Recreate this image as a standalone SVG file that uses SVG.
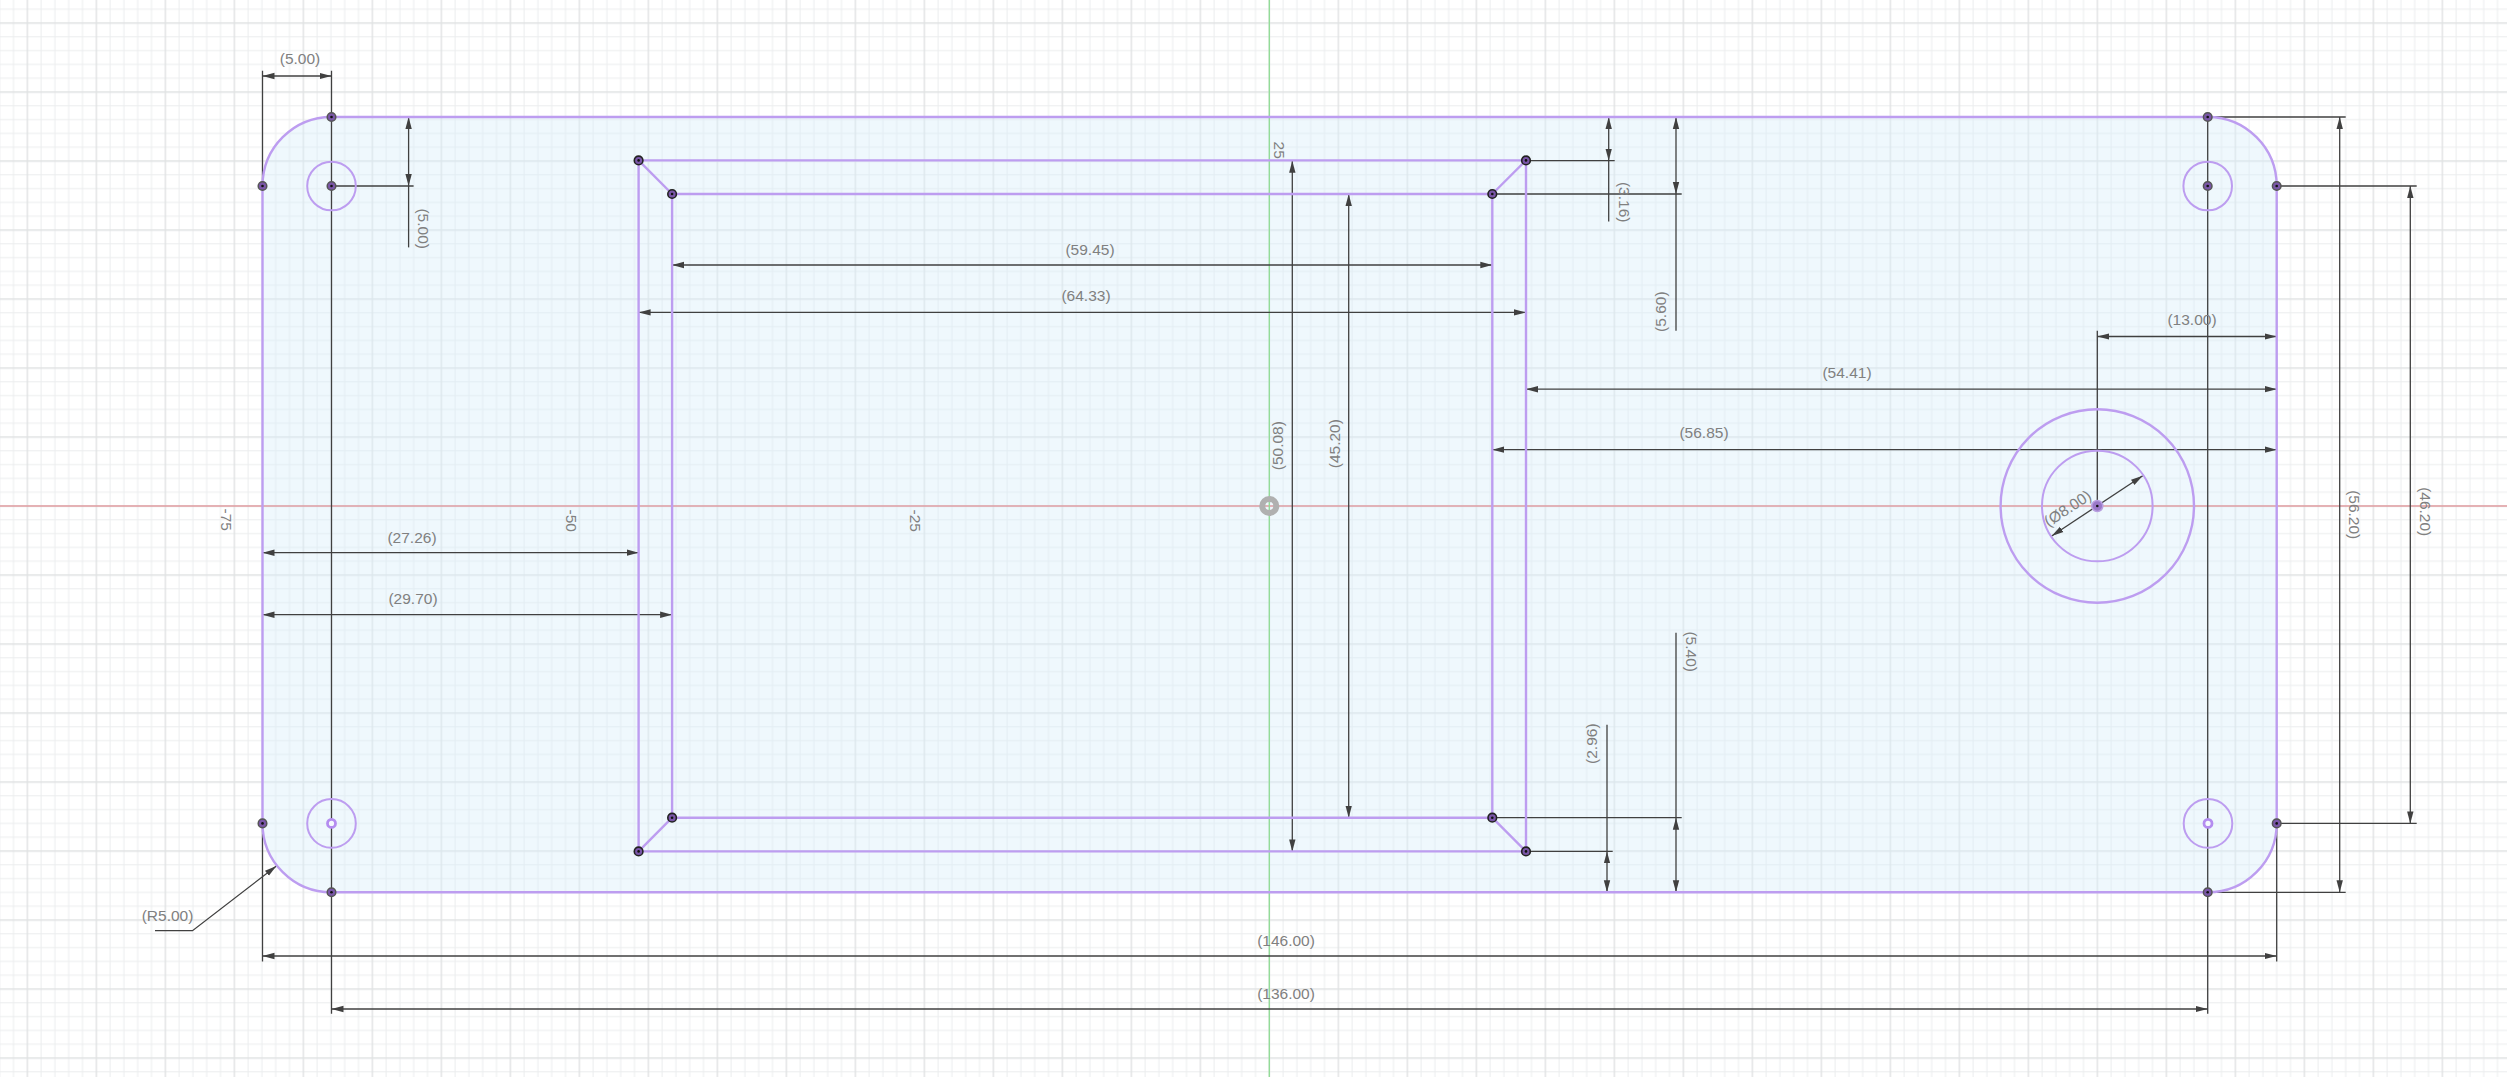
<svg xmlns="http://www.w3.org/2000/svg" width="2507" height="1077" viewBox="0 0 2507 1077">
<style>
.d{stroke:#404040;stroke-width:1.3;fill:none}
.a{marker-start:url(#ar);marker-end:url(#ar)}
.e{marker-end:url(#ar)}
.t{font-family:"Liberation Sans",Arial,sans-serif;font-size:15.5px;fill:#808080;text-anchor:middle;dominant-baseline:central}
.s{stroke:#bd9df0;stroke-width:2.4;fill:none}
.c{stroke:#bd9df0;stroke-width:2;fill:none}
.p{fill:#7a56a8;stroke:#555;stroke-width:1.5}
.q{fill:#7a56a8;stroke:#222;stroke-width:1.6}
.k{fill:#111}
</style>
<defs>
<marker id="ar" markerUnits="userSpaceOnUse" markerWidth="13" markerHeight="8" refX="12" refY="4" orient="auto-start-reverse"><path d="M0 0.8L12 4L0 7.2z" fill="#404040"/></marker>
<pattern id="grid" patternUnits="userSpaceOnUse" x="26.6" y="22.3" width="69" height="69">
<path d="M14.5 0V69M28.3 0V69M42.1 0V69M55.9 0V69M0 14.5H69M0 28.3H69M0 42.1H69M0 55.9H69" stroke="#ebedee" stroke-width="1" fill="none"/>
<path d="M0.7 0V69M0 0.7H69" stroke="#e0e2e3" stroke-width="1.4" fill="none"/>
</pattern>
</defs>
<rect width="2507" height="1077" fill="#fff"/>
<rect id="grid-area" width="2507" height="1077" fill="url(#grid)"/>
<g transform="translate(0 .7)">
<g id="plate">
<path d="M331.5 116.3H2207.7A69 69 0 0 1 2276.7 185.3V822.7A69 69 0 0 1 2207.7 891.6H331.5A69 69 0 0 1 262.5 822.7V185.3A69 69 0 0 1 331.5 116.3Z" fill="#d8eef9" fill-opacity=".4" stroke="none"/>
</g>
<g id="axes">
<line x1="0" y1="505.3" x2="2507" y2="505.3" stroke="#e0787f" stroke-width="1.2"/>
<line x1="1269.3" y1="-1" x2="1269.3" y2="1077" stroke="#8fdc94" stroke-width="1.3"/>
<circle cx="1269.3" cy="505.3" r="7" fill="none" stroke="#b0b0b0" stroke-width="6"/>
<text class="t" transform="translate(226.7 519) rotate(90)">-75</text>
<text class="t" transform="translate(571 520) rotate(90)">-50</text>
<text class="t" transform="translate(915 520) rotate(90)">-25</text>
<text class="t" transform="translate(1279 149.5) rotate(90)">25</text>
</g>
<g id="connectors">
<path class="d" d="M262.5 70V185.3M331.5 70V1013M2207.7 116.3V1013M262.5 822.7V960.7M2276.7 822.7V960.7"/>
<path class="d" d="M331.5 185.3H413.6M1526 160H1614.7M1492.3 193.3H1681.7M1492.3 817H1681.7M1526 850.7H1612.7M2207.7 116.3H2345.7M2276.7 185.3H2416.7M2276.7 822.7H2416.7M2207.7 891.6H2345.7M2097.3 330V505.3"/>
<line class="d a" x1="262.5" y1="75.3" x2="331.5" y2="75.3"/>
<text class="t" x="300" y="58.3">(5.00)</text>
<path class="d" d="M408.6 185.3V246.7"/>
<line class="d a" x1="408.6" y1="116.3" x2="408.6" y2="185.3"/>
<text class="t" transform="translate(423.5 228) rotate(90)">(5.00)</text>
<path class="d" d="M1608.7 160V220.7"/>
<line class="d a" x1="1608.7" y1="116.3" x2="1608.7" y2="160"/>
<text class="t" transform="translate(1624.7 201.5) rotate(90)">(3.16)</text>
<path class="d" d="M1676 193.3V330"/>
<line class="d a" x1="1676" y1="116.3" x2="1676" y2="193.3"/>
<text class="t" transform="translate(1660.5 311) rotate(-90)">(5.60)</text>
<line class="d a" x1="672.1" y1="264.3" x2="1492.3" y2="264.3"/>
<text class="t" x="1090" y="248.5">(59.45)</text>
<line class="d a" x1="638.6" y1="311.7" x2="1526" y2="311.7"/>
<text class="t" x="1086" y="294.5">(64.33)</text>
<line class="d a" x1="1526" y1="388.5" x2="2276.7" y2="388.5"/>
<text class="t" x="1847" y="372">(54.41)</text>
<line class="d a" x1="1492.3" y1="449" x2="2276.7" y2="449"/>
<text class="t" x="1704" y="432">(56.85)</text>
<line class="d a" x1="2097.3" y1="335.8" x2="2276.7" y2="335.8"/>
<text class="t" x="2192" y="319.3">(13.00)</text>
<line class="d a" x1="262.5" y1="552" x2="638.6" y2="552"/>
<text class="t" x="412" y="536.5">(27.26)</text>
<line class="d a" x1="262.5" y1="614" x2="672.1" y2="614"/>
<text class="t" x="413" y="597.5">(29.70)</text>
<line class="d a" x1="1292.3" y1="160" x2="1292.3" y2="850.7"/>
<text class="t" transform="translate(1277 445) rotate(-90)">(50.08)</text>
<line class="d a" x1="1348.7" y1="193.3" x2="1348.7" y2="817"/>
<text class="t" transform="translate(1334 443) rotate(-90)">(45.20)</text>
<path class="d" d="M1676 632V817"/>
<line class="d a" x1="1676" y1="817" x2="1676" y2="891.6"/>
<text class="t" transform="translate(1691 651) rotate(90)">(5.40)</text>
<path class="d" d="M1607 724V850.7"/>
<line class="d a" x1="1607" y1="850.7" x2="1607" y2="891.6"/>
<text class="t" transform="translate(1591.5 743) rotate(-90)">(2.96)</text>
<line class="d a" x1="2410.3" y1="185.3" x2="2410.3" y2="822.7"/>
<text class="t" transform="translate(2425 511) rotate(90)">(46.20)</text>
<line class="d a" x1="2339.7" y1="116.3" x2="2339.7" y2="891.6"/>
<text class="t" transform="translate(2354 514) rotate(90)">(56.20)</text>
<line class="d a" x1="262.5" y1="955.3" x2="2276.7" y2="955.3"/>
<text class="t" x="1286" y="939.5">(146.00)</text>
<line class="d a" x1="331.5" y1="1008.3" x2="2207.7" y2="1008.3"/>
<text class="t" x="1286" y="992.5">(136.00)</text>
<path class="d e" d="M155 930H192.5L276.4 865.3"/>
<text class="t" x="167.5" y="914.5">(R5.00)</text>
<line class="d a" x1="2051.7" y1="535.3" x2="2142.7" y2="475"/>
<text class="t" transform="translate(2067.5 507.5) rotate(-33.5)">(Ø8.00)</text>
</g>
<g id="outline">
<path class="s" d="M331.5 116.3H2207.7A69 69 0 0 1 2276.7 185.3V822.7A69 69 0 0 1 2207.7 891.6H331.5A69 69 0 0 1 262.5 822.7V185.3A69 69 0 0 1 331.5 116.3Z"/>
</g>
<g id="pocket">
<path class="s" d="M638.6 159.7H1526V850.7H638.6ZM672.1 193.3H1492.3V817H672.1ZM638.6 159.7L672.1 193.3M1526 159.7L1492.3 193.3M638.6 850.7L672.1 817M1526 850.7L1492.3 817"/>
</g>
<g id="hole-tl"><circle class="c" cx="331.5" cy="185.3" r="24.3"/><circle class="p" cx="331.5" cy="185.3" r="4.3"/><circle class="k" cx="331.5" cy="185.3" r="1.3"/></g>
<g id="hole-tr"><circle class="c" cx="2207.7" cy="185.3" r="24.3"/><circle class="p" cx="2207.7" cy="185.3" r="4.3"/><circle class="k" cx="2207.7" cy="185.3" r="1.3"/></g>
<g id="hole-bl"><circle class="c" cx="331.5" cy="822.7" r="24.3"/><circle cx="331.5" cy="822.7" r="4" fill="#f4f9fd" stroke="#b48cf0" stroke-width="2.8"/></g>
<g id="hole-br"><circle class="c" cx="2208" cy="822.7" r="24.3"/><circle cx="2208" cy="822.7" r="4" fill="#f4f9fd" stroke="#b48cf0" stroke-width="2.8"/></g>
<g id="hole-center">
<circle class="s" cx="2097.3" cy="505.3" r="96.7"/>
<circle class="c" cx="2097.3" cy="505.3" r="55.3"/>
<circle cx="2097.3" cy="505.3" r="5.5" fill="#9a78c8" stroke="#b9a0e0" stroke-width="1.5"/>
<circle class="k" cx="2097.3" cy="505.3" r="1.3"/>
</g>
<g id="points">
<g id="pt-1"><circle class="p" cx="331.5" cy="116.3" r="4.3"/><circle class="k" cx="331.5" cy="116.3" r="1.3"/></g>
<g id="pt-2"><circle class="p" cx="262.5" cy="185.3" r="4.3"/><circle class="k" cx="262.5" cy="185.3" r="1.3"/></g>
<g id="pt-3"><circle class="p" cx="2207.7" cy="116.3" r="4.3"/><circle class="k" cx="2207.7" cy="116.3" r="1.3"/></g>
<g id="pt-4"><circle class="p" cx="2276.7" cy="185.3" r="4.3"/><circle class="k" cx="2276.7" cy="185.3" r="1.3"/></g>
<g id="pt-5"><circle class="p" cx="262.5" cy="822.7" r="4.3"/><circle class="k" cx="262.5" cy="822.7" r="1.3"/></g>
<g id="pt-6"><circle class="p" cx="331.5" cy="891.6" r="4.3"/><circle class="k" cx="331.5" cy="891.6" r="1.3"/></g>
<g id="pt-7"><circle class="p" cx="2276.7" cy="822.7" r="4.3"/><circle class="k" cx="2276.7" cy="822.7" r="1.3"/></g>
<g id="pt-8"><circle class="p" cx="2207.7" cy="891.6" r="4.3"/><circle class="k" cx="2207.7" cy="891.6" r="1.3"/></g>
<g id="pt-9"><circle class="q" cx="638.6" cy="159.7" r="4.3"/><circle class="k" cx="638.6" cy="159.7" r="1.3"/></g>
<g id="pt-10"><circle class="q" cx="672.1" cy="193.3" r="4.3"/><circle class="k" cx="672.1" cy="193.3" r="1.3"/></g>
<g id="pt-11"><circle class="q" cx="1526" cy="159.7" r="4.3"/><circle class="k" cx="1526" cy="159.7" r="1.3"/></g>
<g id="pt-12"><circle class="q" cx="1492.3" cy="193.3" r="4.3"/><circle class="k" cx="1492.3" cy="193.3" r="1.3"/></g>
<g id="pt-13"><circle class="q" cx="638.6" cy="850.7" r="4.3"/><circle class="k" cx="638.6" cy="850.7" r="1.3"/></g>
<g id="pt-14"><circle class="q" cx="672.1" cy="817" r="4.3"/><circle class="k" cx="672.1" cy="817" r="1.3"/></g>
<g id="pt-15"><circle class="q" cx="1526" cy="850.7" r="4.3"/><circle class="k" cx="1526" cy="850.7" r="1.3"/></g>
<g id="pt-16"><circle class="q" cx="1492.3" cy="817" r="4.3"/><circle class="k" cx="1492.3" cy="817" r="1.3"/></g>
</g>
</g>
</svg>
